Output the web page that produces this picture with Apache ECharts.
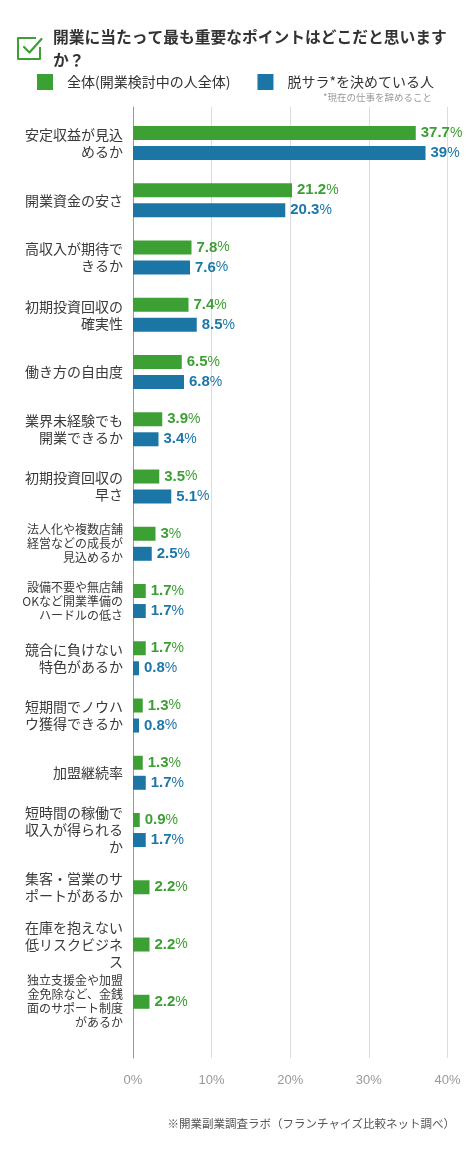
<!DOCTYPE html>
<html><head><meta charset="utf-8">
<script src="https://cdn.jsdelivr.net/npm/echarts@6/dist/echarts.min.js"></script>
<style>html,body{margin:0;padding:0;background:#fff}#c{width:475px;height:1150px}</style>
</head><body><div id="c"></div>
<script>
const categories = [
  '安定収益が見込\nめるか',
  '開業資金の安さ',
  '高収入が期待で\nきるか',
  '初期投資回収の\n確実性',
  '働き方の自由度',
  '業界未経験でも\n開業できるか',
  '初期投資回収の\n早さ',
  '法人化や複数店舗\n経営などの成長が\n見込めるか',
  '設備不要や無店舗\nOKなど開業準備の\nハードルの低さ',
  '競合に負けない\n特色があるか',
  '短期間でノウハ\nウ獲得できるか',
  '加盟継続率',
  '短時間の稼働で\n収入が得られる\nか',
  '集客・営業のサ\nポートがあるか',
  '在庫を抱えない\n低リスクビジネ\nス',
  '独立支援金や加盟\n金免除など、金銭\n面のサポート制度\nがあるか'
];
const seriesNames = ['全体(開業検討中の人全体)', '脱サラ*を決めている人'];
const valuesAll  = [37.7, 21.2, 7.8, 7.4, 6.5, 3.9, 3.5, 3, 1.7, 1.7, 1.3, 1.3, 0.9, 2.2, 2.2, 2.2];
const valuesQuit = [39, 20.3, 7.6, 8.5, 6.8, 3.4, 5.1, 2.5, 1.7, 0.8, 0.8, 1.7, 1.7, null, null, null];
const axisTicks = [0, 10, 20, 30, 40];
const titleText = '開業に当たって最も重要なポイントはどこだと思います\nか？';
const noteText = '*現在の仕事を辞めること';
const sourceText = '※開業副業調査ラボ（フランチャイズ比較ネット調べ）';

const GREEN = '#3ca034', BLUE = '#1b76a6';
const GREEN_T = '#3c9f33', BLUE_T = '#1d77a8';
const JP = '"Noto Sans CJK JP", "Noto Sans", sans-serif';
const NUM = '"Liberation Sans", Arial, sans-serif';

const pairedAll = valuesAll.map((v, i) => valuesQuit[i] == null ? '-' : v);
const singleAll = valuesAll.map((v, i) => valuesQuit[i] == null ? v : '-');

function catFormatter(val) {
  const lines = val.split('\n');
  const small = lines.some(l => l.length >= 8);
  const tag = small ? 's' : 'b';
  return lines.map(l => '{' + tag + '|' + l + '}').join('\n');
}
function valLabel(color) {
  return {
    show: true, position: 'right', distance: 5,
    formatter: p => '{n|' + p.value + '}{p|%}',
    rich: {
      n: { fontFamily: NUM, fontSize: 15, fontWeight: 'bold', color: color },
      p: { fontFamily: NUM, fontSize: 14, color: color }
    }
  };
}

const chart = echarts.init(document.getElementById('c'), null, { renderer: 'canvas' });
chart.setOption({
  animation: false,
  backgroundColor: '#fff',
  title: {
    text: titleText, left: 53, top: 26, padding: 0,
    textStyle: { fontFamily: JP, fontSize: 15.75, fontWeight: 'bold', color: '#333', lineHeight: 23 }
  },
  legend: {
    left: 37, top: 74, itemWidth: 16, itemHeight: 16, itemGap: 27, icon: 'rect',
    padding: 0,
    data: seriesNames,
    selectedMode: false,
    textStyle: { fontFamily: JP, fontSize: 14, color: '#333', padding: [0, 0, 0, 9] }
  },
  graphic: [
    { type: 'polyline', shape: { points: [[36, 38], [18, 38], [18, 59], [40, 59], [40, 47]] },
      style: { stroke: GREEN, lineWidth: 2, fill: null, lineJoin: 'round' } },
    { type: 'polyline', shape: { points: [[24, 47], [29.5, 52.5], [41.5, 39]] },
      style: { stroke: GREEN, lineWidth: 2.2, fill: null, lineCap: 'round', lineJoin: 'round' } },
    { type: 'text', right: 43, top: 93,
      style: { text: noteText, fontFamily: JP, fontSize: 9.5, fill: '#999' } },
    { type: 'text', right: 20, top: 1118,
      style: { text: sourceText, fontFamily: JP, fontSize: 11.5, fill: '#555' } }
  ],
  grid: [
    { left: 133, right: 27.5, top: 107, bottom: 92 },
    { left: 133, right: 27.5, top: 114.4, bottom: 119.6 }
  ],
  xAxis: [
    { gridIndex: 0, type: 'value', min: axisTicks[0], max: axisTicks[axisTicks.length - 1], interval: 10,
      axisLine: { show: false }, axisTick: { show: false },
      splitLine: { show: true, lineStyle: { color: '#dcdcdc', width: 1 } },
      axisLabel: { formatter: '{value}%', color: '#999', fontSize: 13, fontFamily: NUM, margin: 16 } },
    { gridIndex: 1, type: 'value', min: 0, max: 41.93, show: false }
  ],
  yAxis: [
    { gridIndex: 0, type: 'category', data: [''],
      axisLine: { show: true, lineStyle: { color: '#999', width: 1 } },
      axisTick: { show: false }, axisLabel: { show: false }, splitLine: { show: false } },
    { gridIndex: 1, type: 'category', inverse: true, data: categories,
      axisLine: { show: false }, axisTick: { show: false },
      axisLabel: {
        margin: 10, align: 'right', formatter: catFormatter,
        rich: {
          b: { fontFamily: JP, fontSize: 14, lineHeight: 17, color: '#3a3a3a', align: 'right' },
          s: { fontFamily: JP, fontSize: 12, lineHeight: 14, color: '#3a3a3a', align: 'right' }
        }
      } },
    { gridIndex: 1, type: 'category', inverse: true, data: categories, show: false }
  ],
  series: [
    { type: 'bar', name: seriesNames[0], xAxisIndex: 1, yAxisIndex: 1, data: pairedAll,
      barWidth: 14, barGap: '43%', itemStyle: { color: GREEN }, label: valLabel(GREEN_T) },
    { type: 'bar', name: seriesNames[1], xAxisIndex: 1, yAxisIndex: 1, data: valuesQuit.map(v => v == null ? '-' : v),
      barWidth: 14, barGap: '43%', itemStyle: { color: BLUE }, label: valLabel(BLUE_T) },
    { type: 'bar', name: seriesNames[0], xAxisIndex: 1, yAxisIndex: 2, data: singleAll,
      barWidth: 14, itemStyle: { color: GREEN }, label: valLabel(GREEN_T) }
  ]
});
</script></body></html>
